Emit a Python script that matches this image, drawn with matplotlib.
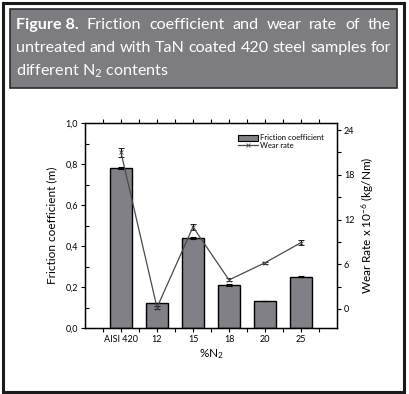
import matplotlib
matplotlib.use("Agg")
import matplotlib.pyplot as plt
from matplotlib.patches import Rectangle
from matplotlib.lines import Line2D

plt.rcParams["font.family"] = ["Lato", "DejaVu Sans"]
plt.rcParams["mathtext.fontset"] = "custom"
plt.rcParams["mathtext.rm"] = "Lato"
plt.rcParams["mathtext.it"] = "Lato"

# data
categories = ["AISI 420", "12", "15", "18", "20", "25"]
friction = [0.78, 0.12, 0.44, 0.21, 0.13, 0.25]
friction_err = [0.006, 0.0, 0.004, 0.004, 0.0, 0.003]
wear = [21.0, 0.2, 11.0, 3.9, 6.2, 8.9]
wear_err = [0.6, 0.2, 0.4, 0.2, 0.15, 0.3]

title_lines = [
    [("Figure 8.", "bold"), ("Friction", "normal"), ("coefficient", "normal"),
     ("and", "normal"), ("wear", "normal"), ("rate", "normal"), ("of", "normal"),
     ("the", "normal")],
    [(w, "normal") for w in "untreated and with TaN coated 420 steel samples for".split()],
    [("different N$_2$ contents", "normal")],
]

W, H = 409, 394
fig = plt.figure(figsize=(W / 100, H / 100), dpi=100)


def px(x, y):
    return x / W, 1 - y / H


# outer frame and title box
fig.patches.append(Rectangle(px(2.5, 391.5), 401.5 / W, 389 / H, transform=fig.transFigure,
                             fill=False, edgecolor="#1a1a1a", lw=2.2))
fig.patches.append(Rectangle(px(9.5, 87.5), 387.5 / W, 78 / H, transform=fig.transFigure,
                             facecolor="#7c7c81", edgecolor="#2b2b2b", lw=1.2))

# title, justified like the journal layout
renderer = fig.canvas.get_renderer()
x_left, x_right = 16, 391
line_y = [25, 48, 71]
for i, words in enumerate(title_lines):
    texts = []
    for w, weight in words:
        t = fig.text(0, 0, w, color="white", fontsize=11.6, fontweight=weight,
                     va="center", ha="left")
        texts.append(t)
    widths = [t.get_window_extent(renderer).width for t in texts]
    if i < 2 and len(texts) > 1:
        gap = (x_right - x_left - sum(widths)) / (len(texts) - 1)
    else:
        gap = 4
    x = x_left
    for t, wd in zip(texts, widths):
        t.set_position(px(x, line_y[i]))
        x += wd + gap

# main axes
ax = fig.add_axes([85 / W, 1 - 328 / H, 252 / W, 205 / H])
xs = list(range(len(categories)))
ax.bar(xs, friction, width=0.63, color="#808086", edgecolor="black", lw=1.0,
       yerr=friction_err, error_kw=dict(ecolor="black", elinewidth=0.8, capsize=2.5, capthick=0.8),
       zorder=2)
ax.set_xlim(-1, 6)
ax.set_ylim(0, 1.0)
ax.set_xticks(xs)
ax.set_xticklabels(categories)
ax.set_xticks([x + 0.5 for x in range(-1, 6)], minor=True)
ax.set_yticks([0, 0.2, 0.4, 0.6, 0.8, 1.0])
ax.set_yticklabels(["0,0", "0,2", "0,4", "0,6", "0,8", "1,0"])
ax.set_yticks([0.1, 0.3, 0.5, 0.7, 0.9], minor=True)
ax.tick_params(axis="both", which="major", labelsize=6.5, length=3, width=0.8, pad=2)
ax.tick_params(axis="y", which="minor", direction="in", length=3, width=0.8)
ax.tick_params(axis="x", which="minor", direction="out", length=3, width=0.8)
ax.tick_params(axis="x", which="both", top=True)
for s in ax.spines.values():
    s.set_linewidth(1.0)
ax.set_xlabel("%N$_2$", fontsize=8.5, labelpad=2)
ax.set_ylabel("Friction coefficient (m)", fontsize=8.5, labelpad=6)

# wear rate on the right axis
ax2 = ax.twinx()
ax2.errorbar(xs, wear, yerr=wear_err, color="#4a4a4a", lw=0.9, marker="x", ms=2.5,
             mew=0.6, ecolor="black", elinewidth=0.8, capsize=2.5, capthick=0.8, zorder=3)
ax2.set_ylim(-2.55, 24.95)
ax2.set_yticks([0, 6, 12, 18, 24])
ax2.set_yticks([3, 9, 15, 21], minor=True)
ax2.tick_params(axis="y", which="major", labelsize=6.5, length=3, width=0.8, pad=2)
ax2.tick_params(axis="y", which="minor", length=3, width=0.8)
ax2.set_ylabel("Wear Rate x 10$^{-6}$ (kg/Nm)", fontsize=8.5, labelpad=4)

# legend with simple proxies
handles = [Rectangle((0, 0), 1, 1, facecolor="#808086", edgecolor="black", lw=0.8),
           Line2D([], [], color="#4a4a4a", lw=0.9, marker="x", ms=2.5, mew=0.6)]
ax2.legend(handles, ["Friction coefficient", "Wear rate"], loc="upper right",
           bbox_to_anchor=(0.97, 0.97), fontsize=5.5, frameon=False, handlelength=2.6,
           handleheight=0.9, borderpad=0.2, labelspacing=0.1, handletextpad=0.3)

fig.savefig("out.png", dpi=100)
